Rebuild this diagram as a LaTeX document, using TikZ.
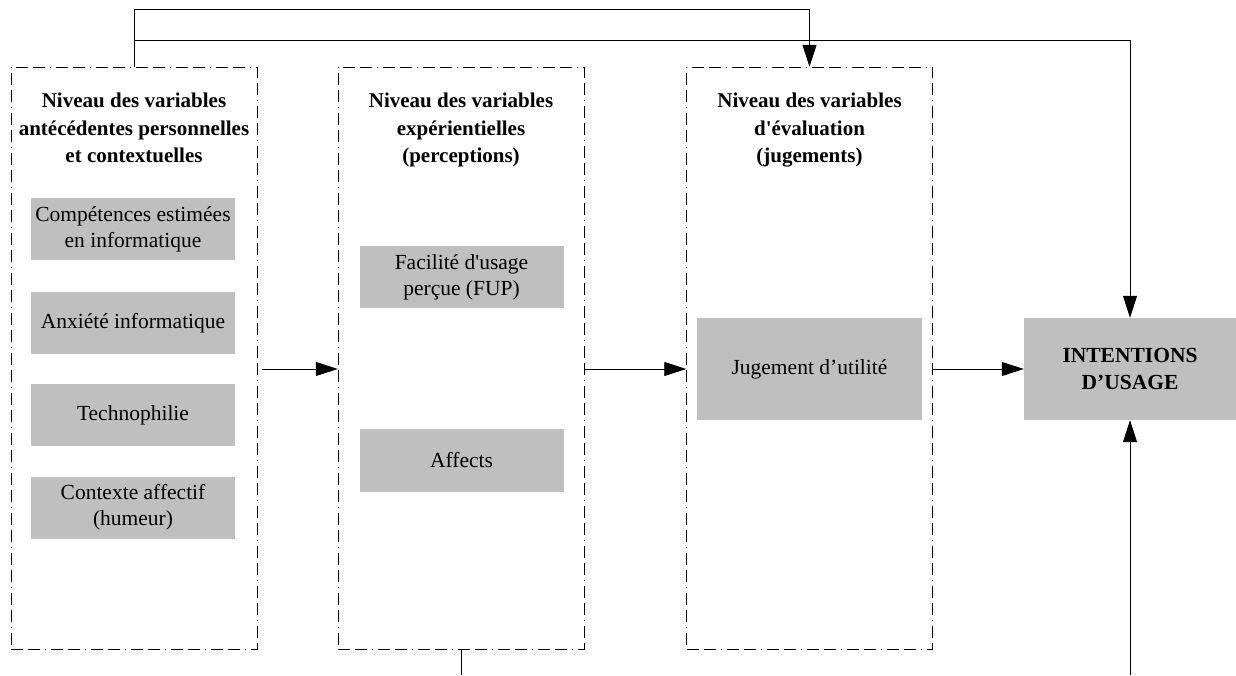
\documentclass[tikz,border=0pt]{standalone}
\usepackage{fontspec}
\setmainfont{Liberation Serif}
\usetikzlibrary{arrows.meta, positioning}

\begin{document}
\begin{tikzpicture}[
    x=1pt, y=1pt,
    level/.style={
        draw,
        dash pattern=on 12pt off 5pt on 12pt off 5pt on 1pt off 5pt,
        minimum width=246pt,
        minimum height=582pt,
        inner sep=0pt,
    },
    title/.style={
        align=center,
        font=\fontsize{21}{27.5}\selectfont\bfseries,
        inner sep=0pt,
    },
    item/.style={
        fill=black!25,
        align=center,
        minimum width=204pt,
        minimum height=62pt,
        inner sep=0pt,
        font=\fontsize{21.5}{26}\selectfont,
    },
    link/.style={
        line width=0.8pt,
    },
    arrow/.style={
        link,
        -{Triangle[length=22pt, width=14pt]},
    }
]
    \useasboundingbox (0,0) rectangle (1236,675);

    % Levels
    \node[level] (lvl1) at (134,317) {};
    \node[level] (lvl2) at (461,317) {};
    \node[level] (lvl3) at (809.5,317) {};

    % Level titles
    \node[title, below=26pt of lvl1.north] (title1) {Niveau des variables\\antécédentes personnelles\\et contextuelles};
    \node[title, below=26pt of lvl2.north] (title2) {Niveau des variables\\expérientielles\\(perceptions)};
    \node[title, below=26pt of lvl3.north] (title3) {Niveau des variables\\d\textquotesingle évaluation\\(jugements)};

    % Variables
    \node[item] (comp) at (133,445.5) {Compétences estimées\\en informatique};
    \node[item] (anx) at (133,351.5) {Anxiété informatique};
    \node[item] (techno) at (133,259.5) {Technophilie};
    \node[item] (ctx) at (133,167.5) {Contexte affectif\\(humeur)};
    \node[item] (fup) at (461.5,397.5) {Facilité d\textquotesingle usage\\perçue (FUP)};
    \node[item] (aff) at (461.5,214.5) {Affects};
    \node[item, minimum width=225pt, minimum height=102pt] (jug) at (809.5,306) {Jugement d’utilité};

    % Outcome
    \node[item, minimum width=212pt, minimum height=102pt,
          font=\fontsize{21.5}{27.5}\selectfont\bfseries] (intent) at (1130,306) {INTENTIONS\\D’USAGE};

    % Links
    \draw[arrow] ([xshift=5pt]lvl1.east |- intent) -- (lvl2.west |- intent);
    \draw[arrow] (lvl2.east |- intent) -- (lvl3.west |- intent);
    \draw[arrow] (lvl3.east |- intent) -- (intent.west);
    \draw[arrow] (lvl1.north) -- ++(0,57) -| (lvl3.north);
    \draw[arrow] (lvl1.north) -- ++(0,26) -| (intent.north);

    % Open ends
    \coordinate (foot2) at (461,0);
    \coordinate (foot4) at (1130,0);
    \draw[link] (lvl2.south) -- (foot2);
    \draw[arrow] (foot4) -- (intent.south);
\end{tikzpicture}
\end{document}
